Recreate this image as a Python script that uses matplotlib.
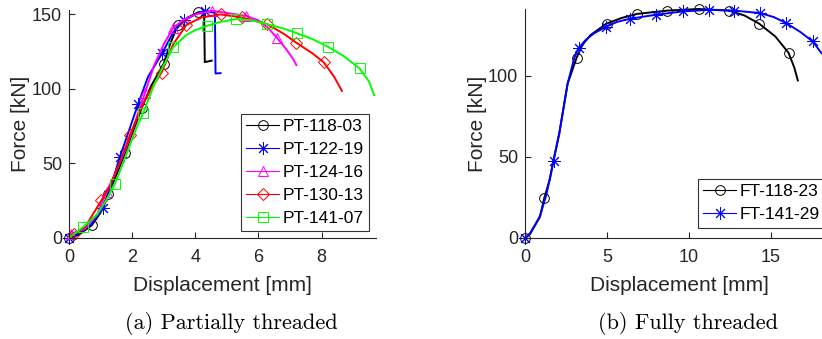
import numpy as np
import matplotlib
matplotlib.use('Agg')
import matplotlib.pyplot as plt

plt.rcParams['font.family'] = ['Liberation Sans', 'DejaVu Sans']

# ---- (a) partially threaded: line points and marker x positions ----
pt118_x = [0, 0.3, 0.72, 1.0, 1.24, 1.5, 1.77, 2.0, 2.3, 2.6, 3.0, 3.2, 3.45, 3.7, 3.95, 4.1, 4.28, 4.3, 4.52]
pt118_y = [0, 2, 8.5, 17, 29.8, 42, 56.7, 70, 87, 102, 117, 130, 143, 147, 150, 151.5, 151, 118, 119]
pt118_mx = [0, 0.72, 1.24, 1.77, 2.3, 3.0, 3.45, 4.1]

pt122_x = [0, 0.3, 0.7, 1.08, 1.35, 1.61, 1.9, 2.19, 2.5, 2.95, 3.3, 3.65, 4.0, 4.3, 4.62, 4.64, 4.8]
pt122_y = [0, 3, 9, 20, 36, 54.4, 72, 90, 108, 124, 138, 146, 150, 152.5, 151, 110.4, 110.6]
pt122_mx = [0, 1.08, 1.61, 2.19, 2.95, 3.65, 4.3]

pt124_x = [0, 0.08, 0.5, 0.9, 1.19, 1.5, 1.8, 2.1, 2.4, 2.7, 3.0, 3.3, 3.6, 4.0, 4.53, 5.0, 5.62, 6.0, 6.3, 6.6, 6.9, 7.1, 7.2]
pt124_y = [0, 3, 6, 16, 31, 45, 60, 78, 97, 116, 130, 141, 146, 150, 152.5, 151, 149, 146, 141, 134, 126, 120, 116]
pt124_mx = [0.08, 1.19, 2.4, 3.3, 4.53, 5.62, 6.6]

pt130_x = [0, 0.15, 0.5, 1.03, 1.3, 1.6, 1.93, 2.3, 2.6, 2.93, 3.3, 3.72, 4.2, 4.8, 5.47, 6.27, 6.8, 7.2, 7.7, 8.07, 8.4, 8.64]
pt130_y = [0, 3, 7, 25.3, 35, 50, 69, 88, 100, 111, 130, 143, 148, 150, 148, 143.5, 137, 131, 124, 117.8, 108, 98.7]
pt130_mx = [0.15, 1.03, 1.93, 2.93, 3.72, 4.8, 5.47, 6.27, 7.2, 8.07]

pt141_x = [0, 0.45, 0.9, 1.2, 1.46, 1.8, 2.1, 2.35, 2.7, 3.0, 3.3, 3.7, 4.0, 4.37, 4.8, 5.3, 5.8, 6.27, 6.8, 7.23, 7.7, 8.2, 8.7, 9.2, 9.5, 9.66]
pt141_y = [0, 7.4, 16, 26, 36.5, 55, 72, 84, 103, 116, 128, 136, 139.5, 142.4, 145, 146.9, 146, 143.5, 140.5, 137.3, 133.5, 128.3, 122, 113.8, 105, 95.8]
pt141_mx = [0.45, 1.46, 2.35, 3.3, 4.37, 5.3, 6.27, 7.23, 8.2, 9.2]

# ---- (b) fully threaded ----
ft118_x = [0, 0.3, 0.59, 0.9, 1.16, 1.5, 1.73, 2.08, 2.59, 3.14, 3.5, 4.0, 4.97, 5.9, 6.86, 8.69, 10.6, 12.45, 13.4, 14.3, 15.3, 16.1, 16.45, 16.67]
ft118_y = [0, 2.5, 7.8, 13, 24.5, 36, 48, 64.4, 95, 111, 119, 125, 132, 135.5, 138, 140, 141, 140, 137, 132, 124, 114, 105, 97]
ft118_mx = [0, 1.16, 3.14, 4.97, 6.86, 8.69, 10.6, 12.45, 14.3, 16.1]

ft141_x = [0, 0.3, 0.6, 0.9, 1.3, 1.73, 2.08, 2.59, 3.0, 3.26, 3.7, 4.2, 4.93, 5.6, 6.41, 8.02, 9.65, 11.23, 12.76, 14.37, 15.2, 15.96, 16.8, 17.58, 18.1, 18.8]
ft141_y = [0, 3, 8, 13.5, 27, 47.5, 64.4, 95, 111, 117, 122, 126, 130, 133, 135, 137.5, 139.5, 140.5, 140, 138.5, 136, 132.3, 127, 121, 114, 107]
ft141_mx = [0, 1.73, 3.26, 4.93, 6.41, 8.02, 9.65, 11.23, 12.76, 14.37, 15.96, 17.58]

ASTERISK = (8, 2, 0)

left_series = [
    ('PT-118-03', pt118_x, pt118_y, pt118_mx, 'k', 'o'),
    ('PT-122-19', pt122_x, pt122_y, pt122_mx, 'b', ASTERISK),
    ('PT-124-16', pt124_x, pt124_y, pt124_mx, '#ff00ff', '^'),
    ('PT-130-13', pt130_x, pt130_y, pt130_mx, 'r', 'D'),
    ('PT-141-07', pt141_x, pt141_y, pt141_mx, 'lime', 's'),
]
right_series = [
    ('FT-118-23', ft118_x, ft118_y, ft118_mx, 'k', 'o'),
    ('FT-141-29', ft141_x, ft141_y, ft141_mx, 'b', ASTERISK),
]

marker_size = {'o': 7, ASTERISK: 9, '^': 7, 'D': 6, 's': 6.5}
axis_grey = '#262626'


def draw(ax, series):
    for label, x, y, mx, c, m in series:
        x = np.array(x)
        idx = [int(np.where(np.isclose(x, v))[0][0]) for v in mx]
        ax.plot(x, y, color=c, lw=1.4, marker=m, markevery=idx,
                ms=marker_size[m], mfc='none', mec=c, mew=0.7,
                label=label, clip_on=False)
    for s in ['top', 'right']:
        ax.spines[s].set_visible(False)
    for s in ['left', 'bottom']:
        ax.spines[s].set_color(axis_grey)
        ax.spines[s].set_linewidth(0.8)
    ax.tick_params(direction='in', length=4, width=0.8, colors=axis_grey,
                   labelsize=13)
    ax.tick_params(axis='x', pad=8)
    ax.tick_params(axis='y', pad=5)
    ax.set_xlabel('Displacement [mm]', fontsize=15, color=axis_grey, labelpad=7)
    ax.set_ylabel('Force [kN]', fontsize=15, color=axis_grey, labelpad=1)


def add_legend(ax, anchor):
    leg = ax.legend(loc='upper left', bbox_to_anchor=anchor,
                    bbox_transform=fig.transFigure, fontsize=12.5, frameon=True,
                    fancybox=False, borderaxespad=0, handlelength=1.9,
                    labelspacing=0.45, borderpad=0.3, handletextpad=0.2)
    leg.get_frame().set_edgecolor('k')
    leg.get_frame().set_linewidth(0.8)
    for h in leg.get_lines():
        h.set_linewidth(0.8)


fig = plt.figure(figsize=(8.22, 3.39), dpi=100)

ax1 = fig.add_axes([0.0839, 0.298, 0.3735, 0.6726])
draw(ax1, left_series)
ax1.set_xlim(0, 9.72)
ax1.set_ylim(0, 153)
ax1.set_xticks([0, 2, 4, 6, 8])
ax1.set_yticks([0, 50, 100, 150])
add_legend(ax1, (0.293, 0.664))

ax2 = fig.add_axes([0.639, 0.298, 0.374, 0.6755])
draw(ax2, right_series)
ax2.set_xlim(0, 18.8)
ax2.set_ylim(0, 141)
ax2.set_xticks([0, 5, 10, 15])
ax2.set_yticks([0, 50, 100])
add_legend(ax2, (0.849, 0.472))

fig.text(0.282, 0.045, '(a) Partially threaded', family='cmr10', fontsize=16,
         ha='center', va='center')
fig.text(0.837, 0.045, '(b) Fully threaded', family='cmr10', fontsize=16,
         ha='center', va='center')

fig.savefig('out.png', dpi=100)
